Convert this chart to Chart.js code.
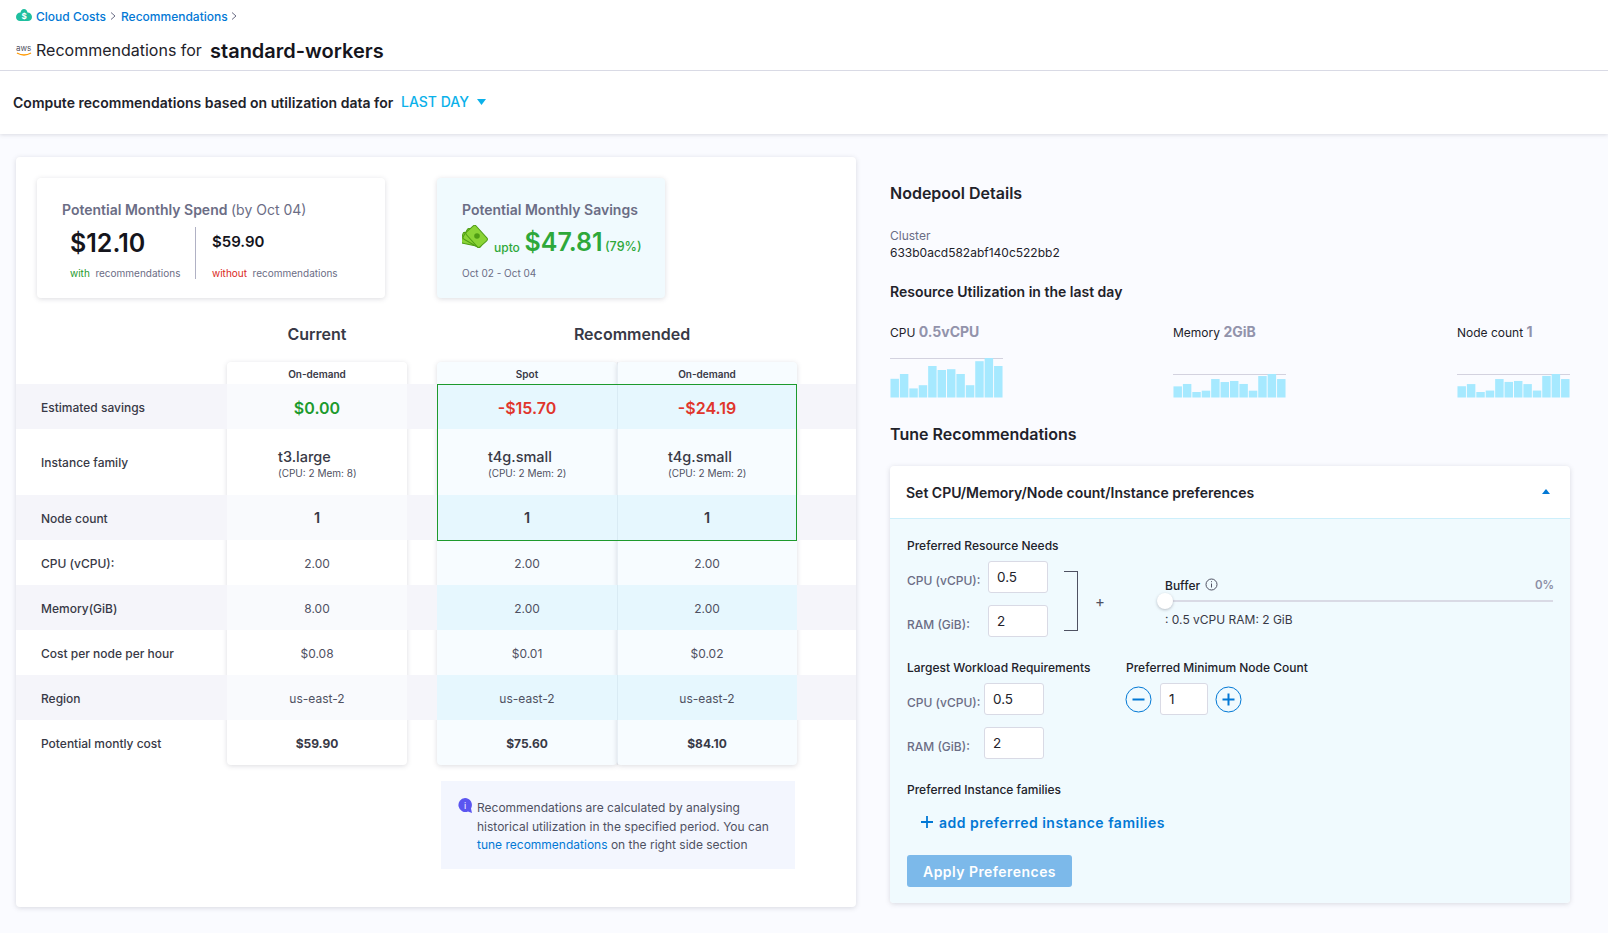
<!DOCTYPE html>
<html>
<head>
<meta charset="utf-8">
<title>Recommendations for standard-workers</title>
<script src="https://cdn.jsdelivr.net/npm/chart.js@4"></script>
<style>
  html, body { margin: 0; padding: 0; width: 1608px; height: 933px; overflow: hidden; background: #fafbff; font-family: Inter, sans-serif; color: #22222a; }
  .box { position: absolute; box-sizing: border-box; }
  .t { position: absolute; white-space: nowrap; transform: translateY(-50%); font-size: 13px; color: #4f5162; }
  .c { transform: translate(-50%, -50%); }
  .shadow { box-shadow: 0 1px 5px rgba(96, 97, 112, 0.22); border-radius: 4px; }
  .input { position: absolute; box-sizing: border-box; background: #fff; border: 1px solid #d9dae5; border-radius: 3px; padding-left: 8px; font-size: 13.5px; color: #22222a; display: flex; align-items: center; }
  .dark { color: #22222a; }
  .label { color: #6b6d85; font-weight: 500; }
  canvas { position: absolute; }
</style>
</head>
<body>
<!-- top header -->
<div class="box" style="left:0;top:0;width:1608px;height:134px;background:#fff;box-shadow:0 1px 4px rgba(96,97,112,.2)"></div>
<div class="box" style="left:0;top:70px;width:1608px;height:1px;background:#d9dae5"></div>
<svg class="box" style="left:16px;top:9px" width="16" height="13" viewBox="0 0 16 13"><path d="M8 0c2 0 3 1.500 3.500 3.500C14 3.500 16 5.500 16 8c0 2.500-2 4-4 4H4c-2 0-4-1.500-4-4 0-2.500 2-4.500 4.500-4.500C5 1.500 6 0 8 0z" fill="#1fbf9f"/><text x="8" y="10" font-size="8" font-weight="700" text-anchor="middle" fill="#fff">$</text></svg>
<div class="t" style="left:36px;top:15.500px;font-size:12px;font-weight:500;color:#0278d5">Cloud Costs</div>
<svg class="box" style="left:110px;top:12px" width="6" height="8"><path d="M1 .5L5 4 1 7.500" fill="none" stroke="#6b6d85"/></svg>
<div class="t" style="left:121px;top:15.500px;font-size:12px;font-weight:500;color:#0278d5">Recommendations</div>
<svg class="box" style="left:231px;top:12px" width="6" height="8"><path d="M1 .5L5 4 1 7.500" fill="none" stroke="#6b6d85"/></svg>
<div class="t" style="left:16px;top:48px;font-size:8px;color:#4f5162">aws</div>
<svg class="box" style="left:16px;top:52px" width="16" height="4" viewBox="0 0 16 4"><path d="M1 1q7 4 14 0" fill="none" stroke="#f90" stroke-width="1.300"/></svg>
<div class="t dark" style="left:36px;top:50px;font-size:16px">Recommendations for</div>
<div class="t" style="left:210px;top:51px;font-size:20px;font-weight:600;color:#15151c">standard-workers</div>
<div class="t dark" style="left:13px;top:101.500px;font-size:14px;font-weight:600;letter-spacing:.02px">Compute recommendations based on utilization data for</div>
<div class="t" style="left:401px;top:100.500px;font-size:14px;font-weight:500;color:#0bb1ea">LAST DAY</div>
<svg class="box" style="left:477px;top:99px" width="9" height="6"><path d="M0 0h9L4.500 6z" fill="#0bb1ea"/></svg>

<!-- left card -->
<div class="box shadow" style="left:16px;top:157px;width:840px;height:750px;background:#fff"></div>
<div class="box shadow" style="left:37px;top:178px;width:348px;height:120px;background:#fff"></div>
<div class="box shadow" style="left:437px;top:178px;width:228px;height:120px;background:#f0fafe"></div>
<div class="t" style="left:62px;top:208.500px;font-size:14px;font-weight:600;color:#6b6d85">Potential Monthly Spend <span style="font-weight:400">(by Oct 04)</span></div>
<div class="t" style="left:70px;top:243px;font-size:25px;font-weight:600;color:#15151c">$12.10</div>
<div class="box" style="left:195px;top:227px;width:1px;height:52px;background:#b0b1c4"></div>
<div class="t" style="left:212px;top:241px;font-size:15px;font-weight:600;color:#15151c">$59.90</div>
<div class="t" style="left:70px;top:272.500px;font-size:10px;color:#6b6d85"><span style="color:#1d9a2d">with</span>&nbsp; recommendations</div>
<div class="t" style="left:212px;top:272.500px;font-size:10px;color:#6b6d85"><span style="color:#da291d">without</span>&nbsp; recommendations</div>
<div class="t" style="left:462px;top:208.500px;font-size:14px;font-weight:600;color:#6b6d85">Potential Monthly Savings</div>
<svg class="box" style="left:462px;top:225px" width="27" height="23" viewBox="0 0 27 23"><g stroke="#4f9d14" stroke-width="1" fill="#8ad436"><rect x="0" y="9" width="20" height="11" rx="2" transform="rotate(12 10 14)"/><rect x="2" y="7" width="20" height="12" rx="2" transform="rotate(30 12 13)"/><rect x="5" y="5" width="20" height="13" rx="2" transform="rotate(48 15 11)"/></g><circle cx="15" cy="11" r="2.800" fill="#4f9d14"/></svg>
<div class="t" style="left:494px;top:247px;font-size:12px;font-weight:500;color:#2ea83a">upto</div>
<div class="t" style="left:524.500px;top:242px;font-size:25px;font-weight:600;color:#2ea83a">$47.81</div>
<div class="t" style="left:605px;top:246px;font-size:12.500px;font-weight:500;color:#2ea83a">(79%)</div>
<div class="t" style="left:462px;top:272.500px;font-size:10px;color:#6b6d85">Oct 02 - Oct 04</div>

<!-- table -->
<div class="t c" style="left:317px;top:334px;font-size:16px;font-weight:600;color:#383946">Current</div>
<div class="t c" style="left:632px;top:334px;font-size:16px;font-weight:600;color:#383946">Recommended</div>
<div class="box shadow" style="left:227px;top:362px;width:180px;height:403px;background:#fff"></div>
<div class="box shadow" style="left:437px;top:362px;width:180px;height:403px;background:#f7fcff"></div>
<div class="box shadow" style="left:617px;top:362px;width:180px;height:403px;background:#f7fcff"></div>
<div id="bands"></div>
<div id="cells"></div>
<div class="box" style="left:437px;top:384px;width:360px;height:157px;border:1px solid #1d9a2d"></div>

<!-- note -->
<div class="box" style="left:441px;top:781px;width:354px;height:88px;background:#f3f6fe"></div>
<svg class="box" style="left:458px;top:798px" width="14" height="15" viewBox="0 0 14 15"><path d="M7 0a7 7 0 0 1 6 10.500L14 15l-4-1.500A7 7 0 1 1 7 0z" fill="#5b55f0"/><text x="7" y="10.500" font-size="9" text-anchor="middle" fill="#fff">i</text></svg>
<div class="t" style="left:477px;top:807px;font-size:12px;color:#4f5162">Recommendations are calculated by analysing</div>
<div class="t" style="left:477px;top:826px;font-size:12px;color:#4f5162">historical utilization in the specified period. You can</div>
<div class="t" style="left:477px;top:844px;font-size:12px;color:#4f5162"><span style="color:#0278d5">tune recommendations</span> on the right side section</div>

<!-- right column -->
<div class="t dark" style="left:890px;top:193px;font-size:16px;font-weight:600">Nodepool Details</div>
<div class="t" style="left:890px;top:234.500px;font-size:12px;color:#6b6d85">Cluster</div>
<div class="t dark" style="left:890px;top:252px;font-size:12px">633b0acd582abf140c522bb2</div>
<div class="t dark" style="left:890px;top:291px;font-size:14px;font-weight:600">Resource Utilization in the last day</div>
<div class="t dark" style="left:890px;top:331px;font-size:12px">CPU <span style="font-size:14px;font-weight:700;color:#9293ab">0.5vCPU</span></div>
<div class="t dark" style="left:1173px;top:331px;font-size:12px">Memory <span style="font-size:14px;font-weight:700;color:#9293ab">2GiB</span></div>
<div class="t dark" style="left:1457px;top:331px;font-size:12px">Node count <span style="font-size:14px;font-weight:700;color:#9293ab">1</span></div>
<canvas id="cpuChart" style="left:890px;top:356px;width:113px;height:42px"></canvas>
<canvas id="memoryChart" style="left:1173px;top:372px;width:113px;height:26px"></canvas>
<canvas id="nodeChart" style="left:1457px;top:372px;width:113px;height:26px"></canvas>

<div class="t dark" style="left:890px;top:434px;font-size:16px;font-weight:600">Tune Recommendations</div>
<div class="box shadow" style="left:890px;top:466px;width:680px;height:437px;background:#fff"></div>
<div class="box" style="left:890px;top:518px;width:680px;height:385px;background:#f0fafe;border-top:1px solid #cdeffb;border-radius:0 0 4px 4px"></div>
<div class="t dark" style="left:906px;top:492px;font-size:14px;font-weight:600">Set CPU/Memory/Node count/Instance preferences</div>
<svg class="box" style="left:1542px;top:489px" width="8" height="5"><path d="M4 0l4 5H0z" fill="#0278d5"/></svg>

<div class="t dark" style="left:907px;top:545px;font-size:12px;font-weight:500">Preferred Resource Needs</div>
<div class="t label" style="left:907px;top:579.500px;font-size:12px">CPU (vCPU):</div>
<div class="t label" style="left:907px;top:623.500px;font-size:12px">RAM (GiB):</div>
<div class="input" style="left:988px;top:561px;width:60px;height:32px">0.5</div>
<div class="input" style="left:988px;top:605px;width:60px;height:32px">2</div>
<div class="box" style="left:1064px;top:571px;width:14px;height:60px;border:1px solid #4f5162;border-left:0"></div>
<div class="t c" style="left:1100px;top:601px;font-size:15px">+</div>
<div class="t dark" style="left:1165px;top:584.500px;font-size:12px;font-weight:500">Buffer</div>
<svg class="box" style="left:1205px;top:578px" width="13" height="13"><circle cx="6.500" cy="6.500" r="5.500" fill="none" stroke="#4f5162"/><path d="M6.500 5.500v4M6.500 3.200v1" stroke="#4f5162"/></svg>
<div class="t" style="left:1535px;top:584.500px;font-size:11.500px;font-weight:600;color:#8c8ea5">0%</div>
<div class="box" style="left:1165px;top:600px;width:388px;height:2px;background:#d9dae5"></div>
<div class="box" style="left:1157px;top:593px;width:16px;height:16px;border-radius:50%;background:#fff;box-shadow:0 1px 3px rgba(96,97,112,.4)"></div>
<div class="t dark" style="left:1165px;top:619px;font-size:12px;color:#383946">: 0.5 vCPU RAM: 2 GiB</div>

<div class="t dark" style="left:907px;top:667px;font-size:12px;font-weight:500">Largest Workload Requirements</div>
<div class="t dark" style="left:1126px;top:667px;font-size:12px;font-weight:500">Preferred Minimum Node Count</div>
<div class="t label" style="left:907px;top:701.500px;font-size:12px">CPU (vCPU):</div>
<div class="t label" style="left:907px;top:745.500px;font-size:12px">RAM (GiB):</div>
<div class="input" style="left:984px;top:683px;width:60px;height:32px">0.5</div>
<div class="input" style="left:984px;top:727px;width:60px;height:32px">2</div>
<svg class="box" style="left:1125px;top:686px" width="27" height="27"><circle cx="13.500" cy="13.500" r="12.500" fill="none" stroke="#0278d5"/><path d="M7.500 13.500h12" stroke="#0278d5" stroke-width="2"/></svg>
<div class="input" style="left:1160px;top:683px;width:48px;height:32px">1</div>
<svg class="box" style="left:1215px;top:686px" width="27" height="27"><circle cx="13.500" cy="13.500" r="12.500" fill="none" stroke="#0278d5"/><path d="M7.500 13.500h12M13.500 7.500v12" stroke="#0278d5" stroke-width="2"/></svg>

<div class="t dark" style="left:907px;top:789px;font-size:12px;font-weight:500">Preferred Instance families</div>
<svg class="box" style="left:921px;top:816px" width="12" height="12"><path d="M0 6h12M6 0v12" stroke="#0278d5" stroke-width="1.800"/></svg>
<div class="t" style="left:939px;top:822px;font-size:14px;font-weight:600;letter-spacing:.5px;color:#0278d5">add preferred instance families</div>
<div class="box" style="left:907px;top:855px;width:165px;height:32px;background:#7cb9ea;border-radius:3px"></div>
<div class="t c" style="left:989.500px;top:870.500px;font-size:14px;font-weight:600;letter-spacing:.45px;color:#fff">Apply Preferences</div>

<script>
// Sparkline data, one value per bucket
const buckets = ['1', '2', '3', '4', '5', '6', '7', '8', '9', '10', '11', '12'];
const cpuValues = [0.24, 0.30, 0.12, 0.16, 0.40, 0.35, 0.36, 0.30, 0.16, 0.46, 0.50, 0.40];
const memoryValues = [0.97, 1.17, 0.50, 0.61, 1.58, 1.33, 1.42, 1.17, 0.61, 1.83, 2.00, 1.58];
const nodeValues = [0.49, 0.58, 0.25, 0.31, 0.79, 0.67, 0.71, 0.58, 0.31, 0.92, 1.00, 0.79];

// Table contents
const rowLabels = ['Estimated savings', 'Instance family', 'Node count', 'CPU (vCPU):', 'Memory(GiB)', 'Cost per node per hour', 'Region', 'Potential montly cost'];
const columnHeaders = ['On-demand', 'Spot', 'On-demand'];
const savings = ['$0.00', '-$15.70', '-$24.19'];
const instanceFamily = ['t3.large', 't4g.small', 't4g.small'];
const instanceSpecs = ['(CPU: 2 Mem: 8)', '(CPU: 2 Mem: 2)', '(CPU: 2 Mem: 2)'];
const nodeCount = ['1', '1', '1'];
const cpuCount = ['2.00', '2.00', '2.00'];
const memorySize = ['8.00', '2.00', '2.00'];
const hourlyCost = ['$0.08', '$0.01', '$0.02'];
const regions = ['us-east-2', 'us-east-2', 'us-east-2'];
const monthlyCost = ['$59.90', '$75.60', '$84.10'];

const rowTops = [384, 429, 495, 540, 585, 630, 675, 720, 765];
const columnCenters = [317, 527, 707];

function addText(parent, text, left, top, style, centered = true) {
    const el = document.createElement('div');
    el.className = centered ? 't c' : 't';
    el.textContent = text;
    el.style.cssText = `left:${left}px;top:${top}px;${style}`;
    parent.appendChild(el);
}

const bands = document.getElementById('bands');
const cells = document.getElementById('cells');

// Zebra rows go over the columns so the tint shows through them
[[0, 1], [2, 3], [4, 5], [6, 7]].forEach(([a, b]) => {
    const top = rowTops[a], height = rowTops[b] - top;
    const parts = [[16, 211, '#f5f5fa'], [227, 180, '#f9fafd'], [407, 30, '#f5f5fa'], [437, 360, '#e6f7fe'], [797, 59, '#f5f5fa']];
    parts.forEach(([left, width, color]) => {
        const band = document.createElement('div');
        band.className = 'box';
        band.style.cssText = `left:${left}px;top:${top}px;width:${width}px;height:${height}px;background:${color}`;
        bands.appendChild(band);
    });
});
const split = document.createElement('div');
split.className = 'box';
split.style.cssText = 'left:617px;top:362px;width:1px;height:403px;background:rgba(120,150,170,.12)';
bands.appendChild(split);

rowLabels.forEach((label, i) => {
    const center = (rowTops[i] + rowTops[i + 1]) / 2;
    addText(cells, label, 41, center, 'font-size:12px;font-weight:500;color:#383946', false);
});

columnCenters.forEach((x, c) => {
    addText(cells, columnHeaders[c], x, 373.5, 'font-size:10px;font-weight:600;color:#383946');
    addText(cells, savings[c], x, 407.5, `font-size:16px;font-weight:600;color:${c === 0 ? '#1d9a2d' : '#e0352b'}`);
    addText(cells, instanceFamily[c], x - 39, 456, 'font-size:14.5px;font-weight:500;color:#383946', false);
    addText(cells, instanceSpecs[c], x - 39, 472.5, 'font-size:10px;color:#4f5162', false);
    addText(cells, nodeCount[c], x, 517, 'font-size:14.5px;font-weight:600;color:#383946');
    addText(cells, cpuCount[c], x, 563, 'font-size:12px;color:#4f5162');
    addText(cells, memorySize[c], x, 608, 'font-size:12px;color:#4f5162');
    addText(cells, hourlyCost[c], x, 653, 'font-size:12px;color:#4f5162');
    addText(cells, regions[c], x, 698, 'font-size:12px;color:#4f5162');
    addText(cells, monthlyCost[c], x, 743, 'font-size:12px;font-weight:700;color:#383946');
});

// Small utilization bars, the only line is the grid line at the y maximum
function drawSparkline(canvasId, values, yMax) {
    new Chart(document.getElementById(canvasId), {
        type: 'bar',
        data: {
            labels: buckets,
            datasets: [{
                data: values,
                backgroundColor: '#a6e9ff',
                barPercentage: 0.9,
                categoryPercentage: 1
            }]
        },
        options: {
            responsive: false,
            animation: false,
            layout: { padding: { top: 2 } },
            plugins: { legend: { display: false }, tooltip: { enabled: false } },
            scales: {
                x: {
                    ticks: { display: false },
                    grid: { display: false, drawTicks: false },
                    border: { display: false }
                },
                y: {
                    min: 0,
                    max: yMax,
                    ticks: { display: false, stepSize: yMax },
                    grid: {
                        drawTicks: false,
                        lineWidth: 1,
                        color: ctx => ctx.tick.value === yMax ? '#d3d2df' : 'transparent'
                    },
                    border: { display: false }
                }
            }
        }
    });
}

drawSparkline('cpuChart', cpuValues, 0.5);
drawSparkline('memoryChart', memoryValues, 2);
drawSparkline('nodeChart', nodeValues, 1);
</script>
</body>
</html>
